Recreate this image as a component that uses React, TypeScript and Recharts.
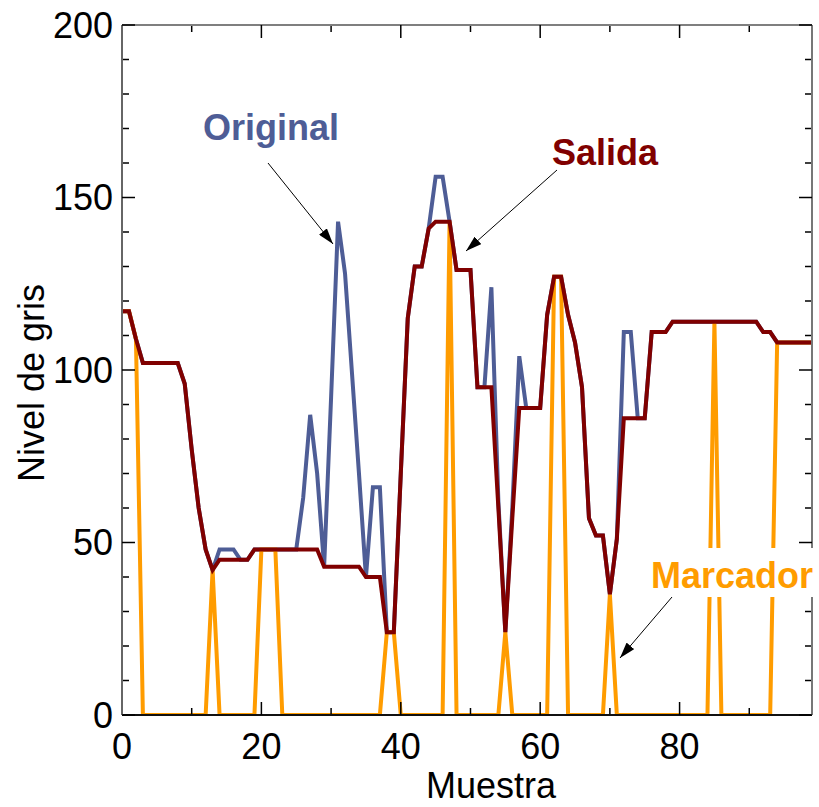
import React from "react";
import { LineChart, Line, XAxis, YAxis } from "recharts";

// valores (muestra 0..99)
const muestras = Array.from({ length: 100 }, (_, i) => i);

const salida = [
  117, 117, 109, 102, 102, 102, 102, 102, 102, 96,
  77, 60, 48, 42, 45, 45, 45, 45, 45, 48,
  48, 48, 48, 48, 48, 48, 48, 48, 48, 43,
  43, 43, 43, 43, 43, 40, 40, 40, 24, 24,
  70, 115, 130, 130, 141, 143, 143, 143, 129, 129,
  129, 95, 95, 95, 60, 24, 57, 89, 89, 89,
  89, 116, 127, 127, 116, 108, 95, 57, 52, 52,
  35, 51, 86, 86, 86, 86, 111, 111, 111, 114,
  114, 114, 114, 114, 114, 114, 114, 114, 114, 114,
  114, 114, 111, 111, 108, 108, 108, 108, 108, 108,
];

const original = [
  117, 117, 109, 102, 102, 102, 102, 102, 102, 96,
  77, 60, 48, 42, 48, 48, 48, 45, 45, 48,
  48, 48, 48, 48, 48, 48, 63, 87, 70, 43,
  92, 143, 128, 99, 70, 40, 66, 66, 24, 24,
  70, 115, 130, 130, 141, 156, 156, 143, 129, 129,
  129, 95, 95, 124, 62, 24, 60, 104, 89, 89,
  89, 116, 127, 127, 116, 108, 95, 57, 52, 52,
  35, 51, 111, 111, 86, 86, 111, 111, 111, 114,
  114, 114, 114, 114, 114, 114, 114, 114, 114, 114,
  114, 114, 111, 111, 108, 108, 108, 108, 108, 108,
];

const marcador = [
  117, 117, 109, 0, 0, 0, 0, 0, 0, 0,
  0, 0, 0, 42, 0, 0, 0, 0, 0, 0,
  48, 48, 48, 0, 0, 0, 0, 0, 0, 0,
  0, 0, 0, 0, 0, 0, 0, 0, 24, 24,
  0, 0, 0, 0, 0, 0, 0, 143, 0, 0,
  0, 0, 0, 0, 0, 24, 0, 0, 0, 0,
  0, 0, 127, 127, 0, 0, 0, 0, 0, 0,
  35, 0, 0, 0, 0, 0, 0, 0, 0, 0,
  0, 0, 0, 0, 0, 114, 0, 0, 0, 0,
  0, 0, 0, 0, 108, 108, 108, 108, 108, 108,
];

const xMajor = [0, 20, 40, 60, 80];
const xMinor = [10, 30, 50, 70, 90];
const yMajor = [0, 50, 100, 150, 200];
const yMinor = [10, 20, 30, 40, 60, 70, 80, 90, 110, 120, 130, 140, 160, 170, 180, 190];

const FONT = "'Liberation Sans', Arial, sans-serif";
const BLUE = "#4e5d96";
const RED = "#800000";
const ORANGE = "#ff9c00";

// tick sin texto: solo queremos la rayita hacia dentro
const NoLabel = () => <g />;

export default function App() {
  const data = muestras.map((m, i) => ({
    muestra: m,
    original: original[i],
    salida: salida[i],
    marcador: marcador[i],
  }));

  const tickStyle = { fill: "#000", fontSize: 36, fontFamily: FONT };
  const tl = { stroke: "#000", strokeWidth: 1.5 };

  return (
    <div style={{ position: "absolute", left: 0, top: 0, width: 819, height: 807, background: "#fff" }}>
      <LineChart width={819} height={807} data={data} margin={{ top: 25, right: 7, bottom: 42, left: 42 }}>
        <XAxis
          xAxisId="x"
          dataKey="muestra"
          type="number"
          domain={[0, 99]}
          allowDataOverflow
          ticks={xMajor}
          interval={0}
          height={50}
          tickSize={0}
          tickMargin={18}
          tickLine={false}
          axisLine={{ stroke: "#111", strokeWidth: 2 }}
          tick={tickStyle}
        />
        <XAxis xAxisId="xb1" dataKey="muestra" type="number" domain={[0, 99]} allowDataOverflow
          ticks={xMajor} interval={0} height={1} mirror tickSize={13} tick={<NoLabel />} axisLine={false} tickLine={tl} />
        <XAxis xAxisId="xb2" dataKey="muestra" type="number" domain={[0, 99]} allowDataOverflow
          ticks={xMinor} interval={0} height={1} mirror tickSize={6} tick={<NoLabel />} axisLine={false} tickLine={tl} />
        <XAxis xAxisId="xt1" orientation="top" dataKey="muestra" type="number" domain={[0, 99]} allowDataOverflow
          ticks={xMajor} interval={0} height={1} mirror tickSize={13} tick={<NoLabel />}
          axisLine={{ stroke: "#555", strokeWidth: 1.5 }} tickLine={tl} />
        <XAxis xAxisId="xt2" orientation="top" dataKey="muestra" type="number" domain={[0, 99]} allowDataOverflow
          ticks={xMinor} interval={0} height={1} mirror tickSize={6} tick={<NoLabel />} axisLine={false} tickLine={tl} />

        <YAxis
          yAxisId="y"
          type="number"
          domain={[0, 200]}
          allowDataOverflow
          ticks={yMajor}
          interval={0}
          width={80}
          tickSize={0}
          tickMargin={9}
          tickLine={false}
          axisLine={{ stroke: "#666", strokeWidth: 2 }}
          tick={tickStyle}
        />
        <YAxis yAxisId="yl1" type="number" domain={[0, 200]} allowDataOverflow ticks={yMajor} interval={0}
          width={1} mirror tickSize={13} tick={<NoLabel />} axisLine={false} tickLine={tl} />
        <YAxis yAxisId="yl2" type="number" domain={[0, 200]} allowDataOverflow ticks={yMinor} interval={0}
          width={1} mirror tickSize={6} tick={<NoLabel />} axisLine={false} tickLine={tl} />
        <YAxis yAxisId="yr1" orientation="right" type="number" domain={[0, 200]} allowDataOverflow ticks={yMajor}
          interval={0} width={1} mirror tickSize={13} tick={<NoLabel />}
          axisLine={{ stroke: "#777", strokeWidth: 2 }} tickLine={tl} />
        <YAxis yAxisId="yr2" orientation="right" type="number" domain={[0, 200]} allowDataOverflow ticks={yMinor}
          interval={0} width={1} mirror tickSize={6} tick={<NoLabel />} axisLine={false} tickLine={tl} />

        <Line xAxisId="x" yAxisId="y" type="linear" dataKey="original" stroke={BLUE} strokeWidth={4}
          dot={false} activeDot={false} isAnimationActive={false} />
        <Line xAxisId="x" yAxisId="y" type="linear" dataKey="marcador" stroke={ORANGE} strokeWidth={4}
          dot={false} activeDot={false} isAnimationActive={false} />
        <Line xAxisId="x" yAxisId="y" type="linear" dataKey="salida" stroke={RED} strokeWidth={4}
          dot={false} activeDot={false} isAnimationActive={false} />
      </LineChart>

      <svg width={819} height={807} style={{ position: "absolute", left: 0, top: 0, pointerEvents: "none" }}>
        <defs>
          <marker id="ah" markerWidth="16" markerHeight="10" refX="16" refY="5" orient="auto" markerUnits="userSpaceOnUse">
            <path d="M0,0 L16,5 L0,10 z" fill="#000" />
          </marker>
        </defs>
        <line x1={268} y1={163} x2={333} y2={244} stroke="#000" strokeWidth={1} markerEnd="url(#ah)" />
        <line x1={557} y1={170} x2={466} y2={251} stroke="#000" strokeWidth={1} markerEnd="url(#ah)" />
        <rect x={645} y={548} width={174} height={49} fill="#fff" />
        <line x1={672} y1={597} x2={620} y2={658} stroke="#000" strokeWidth={1} markerEnd="url(#ah)" />
        <text x={271} y={140} textAnchor="middle" fontFamily={FONT} fontWeight="bold" fontSize={36} fill={BLUE}>Original</text>
        <text x={605} y={165} textAnchor="middle" fontFamily={FONT} fontWeight="bold" fontSize={36} fill={RED}>Salida</text>
        <text x={732} y={588} textAnchor="middle" fontFamily={FONT} fontWeight="bold" fontSize={36} fill={ORANGE}>Marcador</text>
        <text x={491} y={798} textAnchor="middle" fontFamily={FONT} fontSize={36} fill="#000">Muestra</text>
        <text x={44} y={383} textAnchor="middle" fontFamily={FONT} fontSize={36} fill="#000" transform="rotate(-90 44 383)">Nivel de gris</text>
      </svg>
    </div>
  );
}
